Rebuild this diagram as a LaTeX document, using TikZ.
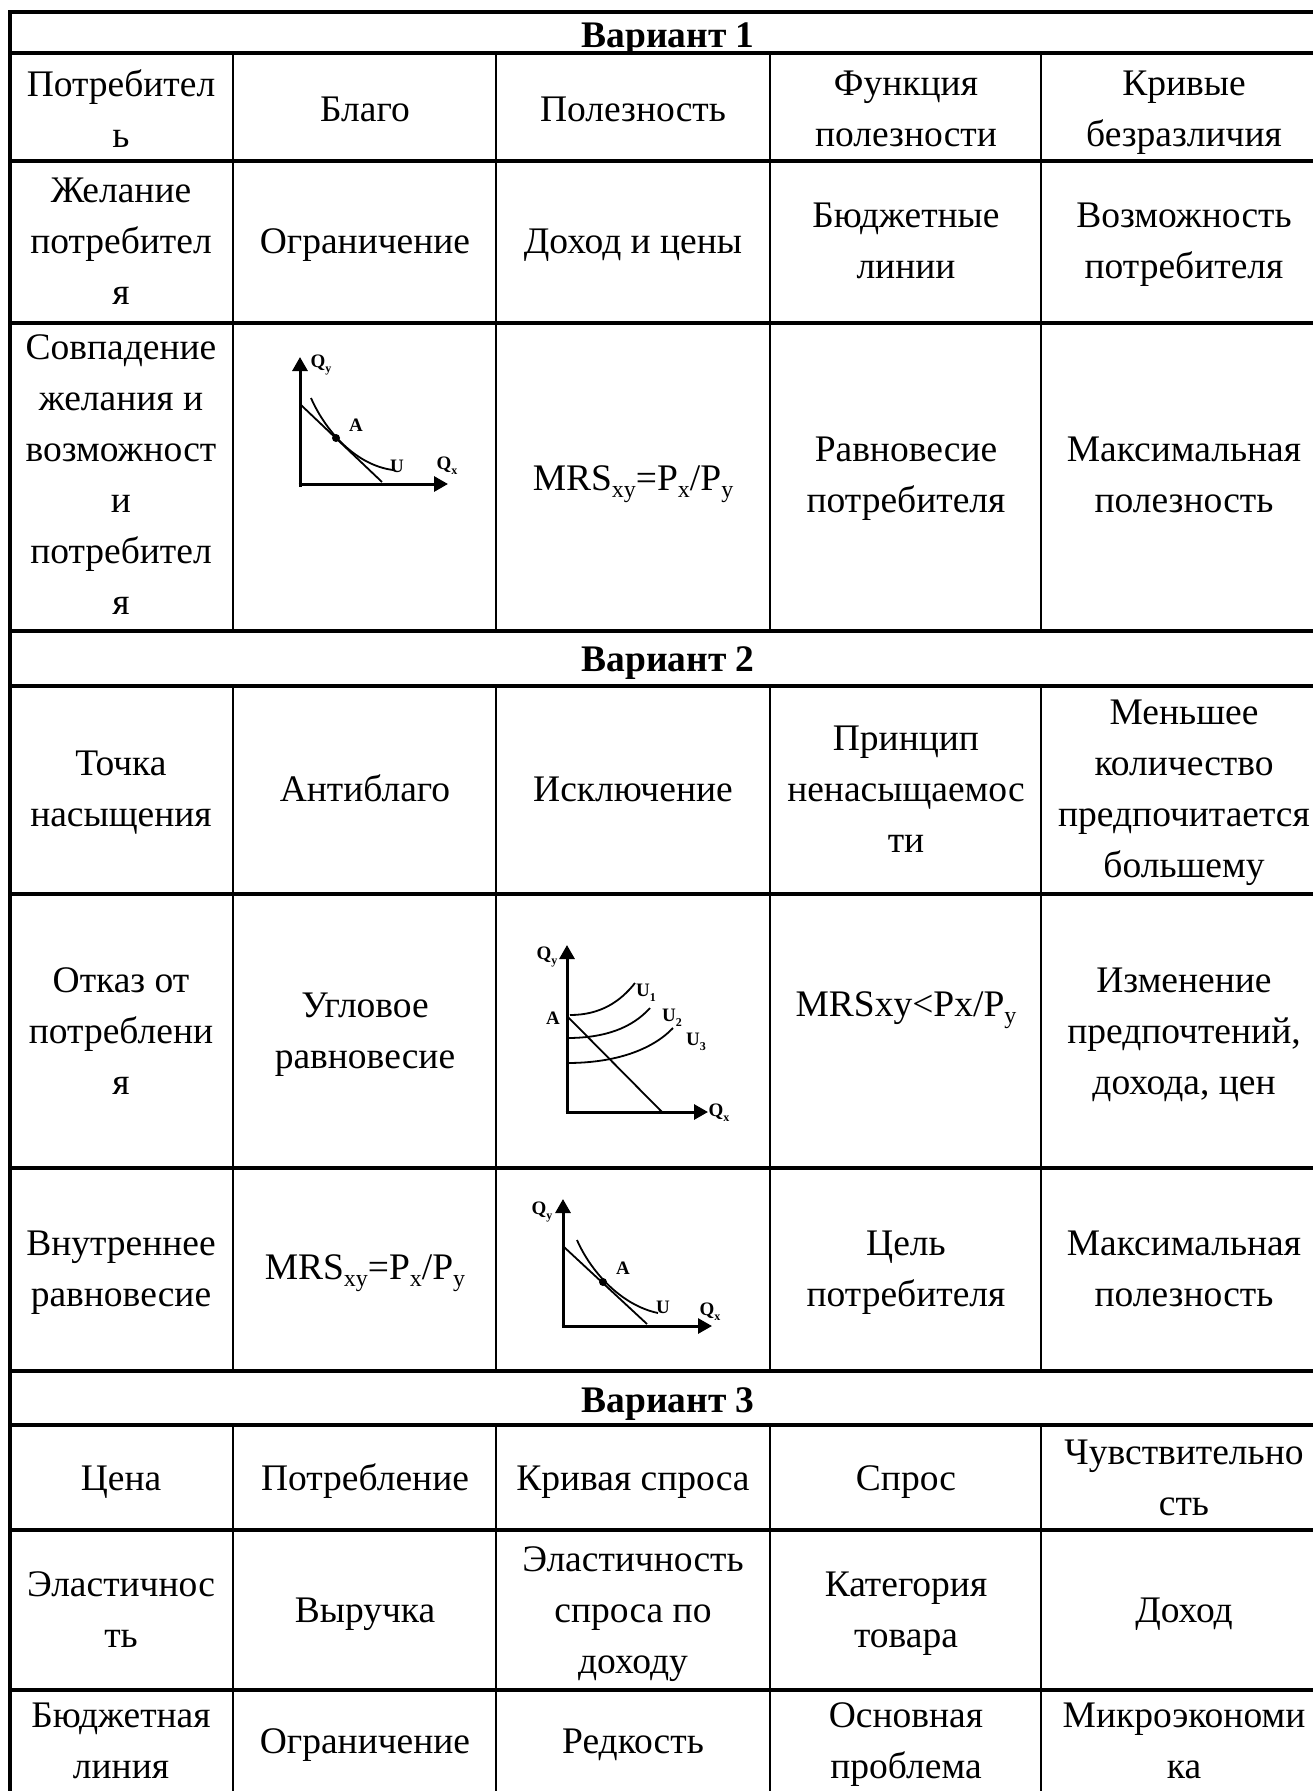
\documentclass[tikz,border=0pt]{standalone}
\usepackage{fontspec}
\setmainfont{Liberation Serif}
\usetikzlibrary{arrows.meta}
\newcommand\cellfont{\fontsize{37.5}{51}\selectfont}
\newcommand\lblfont{\fontsize{19}{21}\selectfont\bfseries}
\newcommand\sbs[1]{\raisebox{-0.2em}{\fontsize{24}{24}\selectfont #1}}
\newcommand\lsb[1]{\raisebox{-0.25em}{\fontsize{12}{12}\selectfont\bfseries #1}}
\tikzset{
  cell/.style={font=\cellfont, align=center, inner sep=0pt,
    execute at begin node=\strut, execute at end node=\strut, yshift=-8.5pt},
  one/.style={font=\cellfont, align=center, inner sep=0pt,
    execute at begin node=\strut, execute at end node=\strut, yshift=-3pt},
  hdr/.style={font=\cellfont\bfseries, inner sep=0pt},
  hline/.style={line width=3.5pt},
  vline/.style={line width=2.5pt},
  axis/.style={line width=3pt, -{Triangle[length=14pt,width=15pt]}},
  gline/.style={line width=1.8pt},
  lbl/.style={font=\lblfont, inner sep=0pt},
  dot/.style={circle, fill=black, inner sep=0pt, minimum size=8pt}
}
\begin{document}
\begin{tikzpicture}[x=1pt,y=-1pt]
\useasboundingbox (0,0) rectangle (1313,1791);
\clip (0,0) rectangle (1313,1791);
\fill[white] (0,0) rectangle (1313,1791);
% horizontal rules
\foreach \yy in {12,53,161,323,631,686,894,1168,1371,1425,1530,1690}
  \draw[hline] (8.25,\yy) -- (1340,\yy);
% left border
\draw[line width=3.5pt] (10,10.25) -- (10,1800);
% column rules
\foreach \xx in {233,496,770,1041}{
  \draw[vline] (\xx,53) -- (\xx,631);
  \draw[vline] (\xx,686) -- (\xx,1371);
  \draw[vline] (\xx,1425) -- (\xx,1800);
}
% headers
\node[hdr] (h1) at (668,39) {Вариант 1};
\node[hdr] (h2) at (668,663) {Вариант 2};
\node[hdr] (h3) at (668,1404) {Вариант 3};
% row 1
\node[cell] (r1c1) at (121,108) {Потребител\\ь};
\node[one] (r1c2) at (365,108) {Благо};
\node[one] (r1c3) at (633,108) {Полезность};
\node[cell] (r1c4) at (906,108) {Функция\\полезности};
\node[cell] (r1c5) at (1184,108) {Кривые\\безразличия};
% row 2
\node[cell] (r2c1) at (121,240) {Желание\\потребител\\я};
\node[one] (r2c2) at (365,240) {Ограничение};
\node[one] (r2c3) at (633,240) {Доход и цены};
\node[cell] (r2c4) at (906,240) {Бюджетные\\линии};
\node[cell] (r2c5) at (1184,240) {Возможность\\потребителя};
% row 3
\node[cell] (r3c1) at (121,474) {Совпадение\\желания и\\возможност\\и\\потребител\\я};
\node[one] (r3c3) at (633,477) {MRS\sbs{xy}=P\sbs{x}/P\sbs{y}};
\node[cell] (r3c4) at (906,474) {Равновесие\\потребителя};
\node[cell] (r3c5) at (1184,474) {Максимальная\\полезность};
% graph 1
\draw[axis] (300,487) -- (300,357);
\draw[axis] (298.5,484) -- (448,484);
\draw[gline] (301,405) -- (382,482);
\draw[gline] (311,398) .. controls (325,430) and (355,465) .. (393,470);
\node[dot] (g1a) at (336,438) {};
\node[lbl] (g1qy) at (321,365) {Q\lsb{y}};
\node[lbl] (g1A) at (356,425) {A};
\node[lbl] (g1U) at (397,466) {U};
\node[lbl] (g1qx) at (447,466) {Q\lsb{x}};
% row 4
\node[cell] (r4c1) at (121,788) {Точка\\насыщения};
\node[one] (r4c2) at (365,788) {Антиблаго};
\node[one] (r4c3) at (633,788) {Исключение};
\node[cell] (r4c4) at (906,788) {Принцип\\ненасыщаемос\\ти};
\node[cell] (r4c5) at (1184,788) {Меньшее\\количество\\предпочитается\\большему};
% row 5
\node[cell] (r5c1) at (121,1030) {Отказ от\\потреблени\\я};
\node[cell] (r5c2) at (365,1030) {Угловое\\равновесие};
\node[one] (r5c4) at (906,1003) {MRSxy<Px/P\sbs{y}};
\node[cell] (r5c5) at (1184,1030) {Изменение\\предпочтений,\\дохода, цен};
% graph 2
\draw[axis] (567,1113) -- (567,945);
\draw[axis] (565.5,1112) -- (708,1112);
\draw[gline] (567,1016) -- (662,1112);
\draw[gline] (570,1015) .. controls (600,1015) and (620,1002) .. (635,983);
\draw[gline] (567,1038) .. controls (605,1038) and (632,1028) .. (650,1008);
\draw[gline] (567,1063) .. controls (615,1063) and (652,1050) .. (673,1028);
\node[lbl] (g2qy) at (547,957) {Q\lsb{y}};
\node[lbl] (g2A) at (553,1018) {A};
\node[lbl] (g2u1) at (646,993) {U\lsb{1}};
\node[lbl] (g2u2) at (672,1018) {U\lsb{2}};
\node[lbl] (g2u3) at (696,1042) {U\lsb{3}};
\node[lbl] (g2qx) at (719,1113) {Q\lsb{x}};
% row 6
\node[cell] (r6c1) at (121,1268) {Внутреннее\\равновесие};
\node[one] (r6c2) at (365,1266) {MRS\sbs{xy}=P\sbs{x}/P\sbs{y}};
\node[cell] (r6c4) at (906,1268) {Цель\\потребителя};
\node[cell] (r6c5) at (1184,1268) {Максимальная\\полезность};
% graph 3
\draw[axis] (563,1327) -- (563,1199);
\draw[axis] (561.5,1326) -- (712,1326);
\draw[gline] (564,1247) -- (647,1324);
\draw[gline] (577,1240) .. controls (590,1270) and (620,1305) .. (658,1313);
\node[dot] (g3a) at (603,1282) {};
\node[lbl] (g3qy) at (542,1212) {Q\lsb{y}};
\node[lbl] (g3A) at (623,1268) {A};
\node[lbl] (g3U) at (663,1307) {U};
\node[lbl] (g3qx) at (710,1312) {Q\lsb{x}};
% row 7
\node[one] (r7c1) at (121,1477) {Цена};
\node[one] (r7c2) at (365,1477) {Потребление};
\node[one] (r7c3) at (633,1477) {Кривая спроса};
\node[one] (r7c4) at (906,1477) {Спрос};
\node[cell] (r7c5) at (1184,1477) {Чувствительно\\сть};
% row 8
\node[cell] (r8c1) at (121,1609) {Эластичнос\\ть};
\node[one] (r8c2) at (365,1609) {Выручка};
\node[cell] (r8c3) at (633,1609) {Эластичность\\спроса по\\доходу};
\node[cell] (r8c4) at (906,1609) {Категория\\товара};
\node[one] (r8c5) at (1184,1609) {Доход};
% row 9
\node[cell] (r9c1) at (121,1740) {Бюджетная\\линия};
\node[one] (r9c2) at (365,1740) {Ограничение};
\node[one] (r9c3) at (633,1740) {Редкость};
\node[cell] (r9c4) at (906,1740) {Основная\\проблема};
\node[cell] (r9c5) at (1184,1740) {Микроэкономи\\ка};
\end{tikzpicture}
\end{document}
